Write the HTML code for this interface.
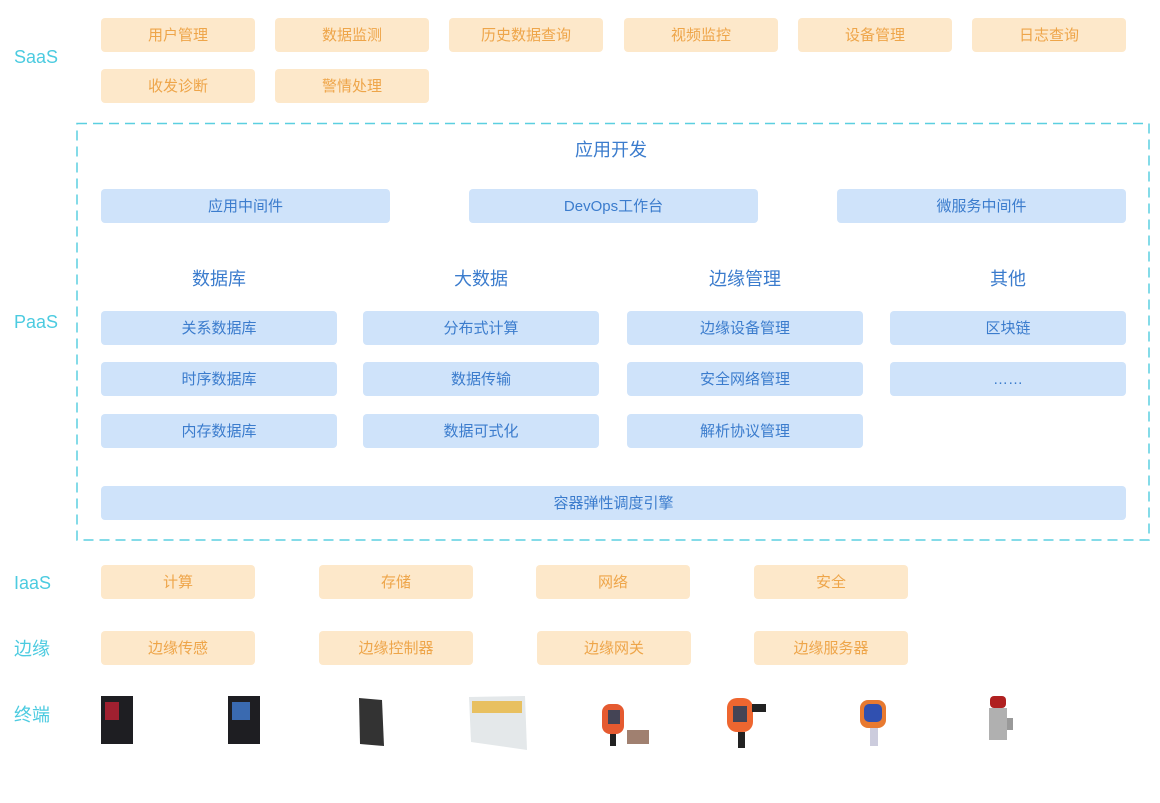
<!DOCTYPE html>
<html><head><meta charset="utf-8"><style>
body{margin:0;width:1160px;height:803px;background:#fff;position:relative;overflow:hidden;font-family:"Liberation Sans","Noto Sans CJK SC",sans-serif}
.b{position:absolute;height:34px;line-height:36px;text-align:center;font-size:15px;border-radius:4px}
.o{background:#fde8ca;color:#eea549}
.u{background:#cfe3fa;color:#3b7ccd}
.l{position:absolute;left:14px;color:#4ccbe0;font-size:18px;line-height:22px}
.h{position:absolute;width:236px;text-align:center;color:#3b7ccd;font-size:18px;line-height:24px}
.d{position:absolute}
</style></head><body>
<div class="l" style="top:46px">SaaS</div>
<div class="l" style="top:311px">PaaS</div>
<div class="l" style="top:572px">IaaS</div>
<div class="l" style="top:638px">边缘</div>
<div class="l" style="top:704px">终端</div>

<div class="b o" style="left:101px;top:18px;width:154px">用户管理</div>
<div class="b o" style="left:275px;top:18px;width:154px">数据监测</div>
<div class="b o" style="left:449px;top:18px;width:154px">历史数据查询</div>
<div class="b o" style="left:624px;top:18px;width:154px">视频监控</div>
<div class="b o" style="left:798px;top:18px;width:154px">设备管理</div>
<div class="b o" style="left:972px;top:18px;width:154px">日志查询</div>
<div class="b o" style="left:101px;top:69px;width:154px">收发诊断</div>
<div class="b o" style="left:275px;top:69px;width:154px">警情处理</div>

<svg class="d" style="left:0;top:0" width="1160" height="803"><rect x="77" y="123.5" width="1072" height="416.5" fill="none" stroke="#5bcfe0" stroke-width="1.5" stroke-dasharray="10,6"/></svg>

<div class="h" style="left:493px;top:138px">应用开发</div>
<div class="b u" style="left:101px;top:189px;width:289px">应用中间件</div>
<div class="b u" style="left:469px;top:189px;width:289px">DevOps工作台</div>
<div class="b u" style="left:837px;top:189px;width:289px">微服务中间件</div>

<div class="h" style="left:101px;top:267px">数据库</div>
<div class="h" style="left:363px;top:267px">大数据</div>
<div class="h" style="left:627px;top:267px">边缘管理</div>
<div class="h" style="left:890px;top:267px">其他</div>

<div class="b u" style="left:101px;top:311px;width:236px">关系数据库</div>
<div class="b u" style="left:101px;top:362px;width:236px">时序数据库</div>
<div class="b u" style="left:101px;top:414px;width:236px">内存数据库</div>
<div class="b u" style="left:363px;top:311px;width:236px">分布式计算</div>
<div class="b u" style="left:363px;top:362px;width:236px">数据传输</div>
<div class="b u" style="left:363px;top:414px;width:236px">数据可式化</div>
<div class="b u" style="left:627px;top:311px;width:236px">边缘设备管理</div>
<div class="b u" style="left:627px;top:362px;width:236px">安全网络管理</div>
<div class="b u" style="left:627px;top:414px;width:236px">解析协议管理</div>
<div class="b u" style="left:890px;top:311px;width:236px">区块链</div>
<div class="b u" style="left:890px;top:362px;width:236px">……</div>
<div class="b u" style="left:101px;top:486px;width:1025px">容器弹性调度引擎</div>

<div class="b o" style="left:101px;top:565px;width:154px">计算</div>
<div class="b o" style="left:319px;top:565px;width:154px">存储</div>
<div class="b o" style="left:536px;top:565px;width:154px">网络</div>
<div class="b o" style="left:754px;top:565px;width:154px">安全</div>
<div class="b o" style="left:101px;top:631px;width:154px">边缘传感</div>
<div class="b o" style="left:319px;top:631px;width:154px">边缘控制器</div>
<div class="b o" style="left:537px;top:631px;width:154px">边缘网关</div>
<div class="b o" style="left:754px;top:631px;width:154px">边缘服务器</div>

<svg class="d" style="left:0;top:680px" width="1160" height="80">
<rect x="101" y="16" width="32" height="48" fill="#1e1e22"/><rect x="105" y="22" width="14" height="18" fill="#a02030"/>
<rect x="228" y="16" width="32" height="48" fill="#1e1e22"/><rect x="232" y="22" width="18" height="18" fill="#3a6ab0"/>
<polygon points="359,18 382,20 384,66 360,64" fill="#333"/>
<polygon points="469,17 525,16 527,70 471,62" fill="#e4e8ea"/><rect x="472" y="21" width="50" height="12" fill="#e8c060"/>
<rect x="602" y="24" width="22" height="30" rx="8" fill="#e55a30"/><rect x="608" y="30" width="12" height="14" fill="#445"/><rect x="610" y="54" width="6" height="12" fill="#222"/><rect x="627" y="50" width="22" height="14" fill="#a08070"/>
<rect x="727" y="18" width="26" height="34" rx="10" fill="#ee6630"/><rect x="733" y="26" width="14" height="16" fill="#445"/><rect x="738" y="52" width="7" height="16" fill="#222"/><rect x="752" y="24" width="14" height="8" fill="#222"/>
<rect x="860" y="20" width="26" height="28" rx="8" fill="#e87a30"/><rect x="864" y="24" width="18" height="18" rx="5" fill="#3050b0"/><rect x="870" y="48" width="8" height="18" fill="#ccd"/>
<rect x="990" y="16" width="16" height="12" rx="4" fill="#b02020"/><rect x="989" y="28" width="18" height="32" fill="#b0b0b0"/><rect x="1007" y="38" width="6" height="12" fill="#999"/>
</svg>
</body></html>
